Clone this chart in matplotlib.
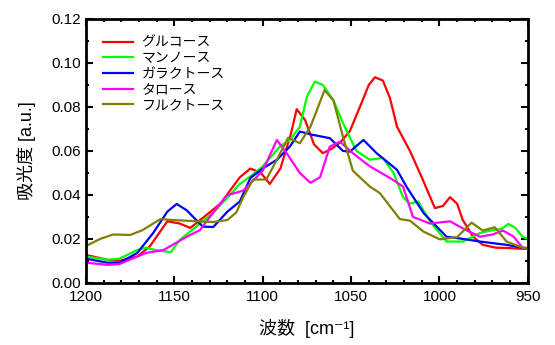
import matplotlib
matplotlib.use("Agg")
import matplotlib.pyplot as plt
from matplotlib.ticker import MultipleLocator

plt.rcParams["font.family"] = ["Liberation Sans", "Noto Sans CJK JP", "DejaVu Sans"]

# wavenumber / absorbance
glc_x = [1200, 1188, 1181, 1171, 1164, 1154, 1147, 1141, 1134, 1124, 1113, 1107,
         1101, 1096, 1090, 1084, 1080.8, 1076, 1071, 1066, 1061, 1056, 1050.7,
         1044, 1040, 1036.5, 1032, 1028, 1024, 1016.7, 1010, 1002.6, 998, 994,
         990, 986.8, 981, 975.5, 968, 962, 953, 950]
glc_y = [0.0127, 0.0105, 0.0101, 0.012, 0.0165, 0.028, 0.027, 0.025, 0.0295, 0.036,
         0.048, 0.052, 0.050, 0.045, 0.052, 0.068, 0.079, 0.074, 0.063, 0.059,
         0.061, 0.064, 0.069, 0.082, 0.090, 0.0935, 0.092, 0.084, 0.071, 0.060,
         0.048, 0.034, 0.035, 0.039, 0.036, 0.0286, 0.021, 0.0173, 0.016, 0.0159,
         0.0155, 0.0155]

man_x = [1200, 1188, 1181, 1171, 1166, 1160, 1152, 1147, 1137, 1128, 1118.5, 1113,
         1106, 1100, 1090.3, 1084.6, 1079, 1075, 1070.5, 1066, 1060, 1054.6, 1047,
         1039.4, 1032, 1026, 1020.6, 1016.7, 1012, 1005.4, 996, 986.7, 977, 970,
         965, 961, 957, 953, 950]
man_y = [0.012, 0.0105, 0.011, 0.015, 0.016, 0.0148, 0.014, 0.0195, 0.026, 0.032,
         0.040, 0.045, 0.049, 0.053, 0.062, 0.065, 0.071, 0.0847, 0.0915, 0.090,
         0.083, 0.0727, 0.060, 0.056, 0.0568, 0.050, 0.039, 0.036, 0.037, 0.028,
         0.0188, 0.0188, 0.0227, 0.024, 0.0245, 0.0268, 0.025, 0.021, 0.020]

gal_x = [1200, 1188, 1181, 1171, 1162, 1154, 1148.7, 1143, 1134, 1128, 1120, 1113,
         1107, 1100, 1092, 1084.6, 1079, 1071.6, 1062, 1054.6, 1050.7, 1043,
         1035.6, 1024, 1018.7, 1009, 996, 986.7, 977, 962, 953, 950]
gal_y = [0.011, 0.0092, 0.0092, 0.0136, 0.0227, 0.0324, 0.0359, 0.033, 0.0256,
         0.0254, 0.0324, 0.037, 0.0477, 0.052, 0.056, 0.062, 0.0688, 0.0673, 0.0658,
         0.060, 0.0597, 0.065, 0.059, 0.0514, 0.0438, 0.0318, 0.021, 0.020, 0.0188,
         0.0173, 0.016, 0.0158]

tal_x = [1200, 1188, 1181, 1171, 1166, 1156, 1151, 1143, 1135.5, 1128, 1120, 1115,
         1111, 1100, 1092, 1086.5, 1079, 1073, 1067.6, 1062, 1056.3, 1049,
         1039.4, 1028, 1020.6, 1015, 1005.4, 994, 985, 977, 970, 964, 958, 953, 950]
tal_y = [0.0092, 0.0082, 0.0086, 0.012, 0.0136, 0.015, 0.0173, 0.021, 0.024, 0.032,
         0.040, 0.041, 0.042, 0.051, 0.065, 0.059, 0.050, 0.0455, 0.048, 0.062,
         0.0642, 0.059, 0.053, 0.0477, 0.0438, 0.030, 0.027, 0.028, 0.024, 0.021,
         0.022, 0.0238, 0.021, 0.016, 0.0155]

fru_x = [1200, 1192, 1184.7, 1175, 1168, 1158, 1151, 1137, 1128, 1120, 1115, 1111,
         1105.5, 1098, 1092, 1085.6, 1079, 1073, 1065, 1060, 1054.6, 1049,
         1039.4, 1033.7, 1022.4, 1016.7, 1009, 999.8, 990, 981.8, 975.5, 968.7,
         962, 953, 950]
fru_y = [0.0168, 0.020, 0.022, 0.0218, 0.024, 0.029, 0.0286, 0.028, 0.0277, 0.0286,
         0.032, 0.039, 0.047, 0.047, 0.056, 0.066, 0.0635, 0.071, 0.0877, 0.083,
         0.0665, 0.051, 0.0438, 0.0408, 0.029, 0.0283, 0.0233, 0.0198, 0.0208,
         0.0274, 0.0238, 0.0253, 0.0188, 0.016, 0.0158]

series = [
    ("グルコース", glc_x, glc_y, "#ff0000"),
    ("マンノース", man_x, man_y, "#00ff00"),
    ("ガラクトース", gal_x, gal_y, "#0000ff"),
    ("タロース", tal_x, tal_y, "#ff00ff"),
    ("フルクトース", fru_x, fru_y, "#808000"),
]

fig = plt.figure(figsize=(5.55, 3.45), dpi=100)
ax = fig.add_axes([0.155, 0.18, 0.796, 0.765])

for name, x, y, c in series:
    ax.plot(x, y, color=c, lw=1.6, label=name)

ax.set_xlim(1200, 950)
ax.set_ylim(0, 0.12)
ax.xaxis.set_major_locator(MultipleLocator(50))
ax.xaxis.set_minor_locator(MultipleLocator(10))
ax.yaxis.set_major_locator(MultipleLocator(0.02))
ax.yaxis.set_minor_locator(MultipleLocator(0.01))
ax.yaxis.set_major_formatter(plt.FormatStrFormatter("%.2f"))
ax.tick_params(which="both", direction="in", top=True, right=True, width=1.5,
               labelsize=11)
ax.tick_params(axis="x", pad=5)
ax.tick_params(which="major", length=5)
ax.tick_params(which="minor", length=2.5)
for sp in ax.spines.values():
    sp.set_linewidth(2)

ax.set_xlabel("波数  [cm⁻¹]", fontsize=13, labelpad=11)
ax.set_ylabel("吸光度 [a.u.]", fontsize=13, labelpad=11)

ax.legend(loc="upper left", frameon=False, fontsize=10, handlelength=2.2,
          handletextpad=0.6, labelspacing=0.12, borderaxespad=0.8)

fig.savefig("out.png", dpi=100)
